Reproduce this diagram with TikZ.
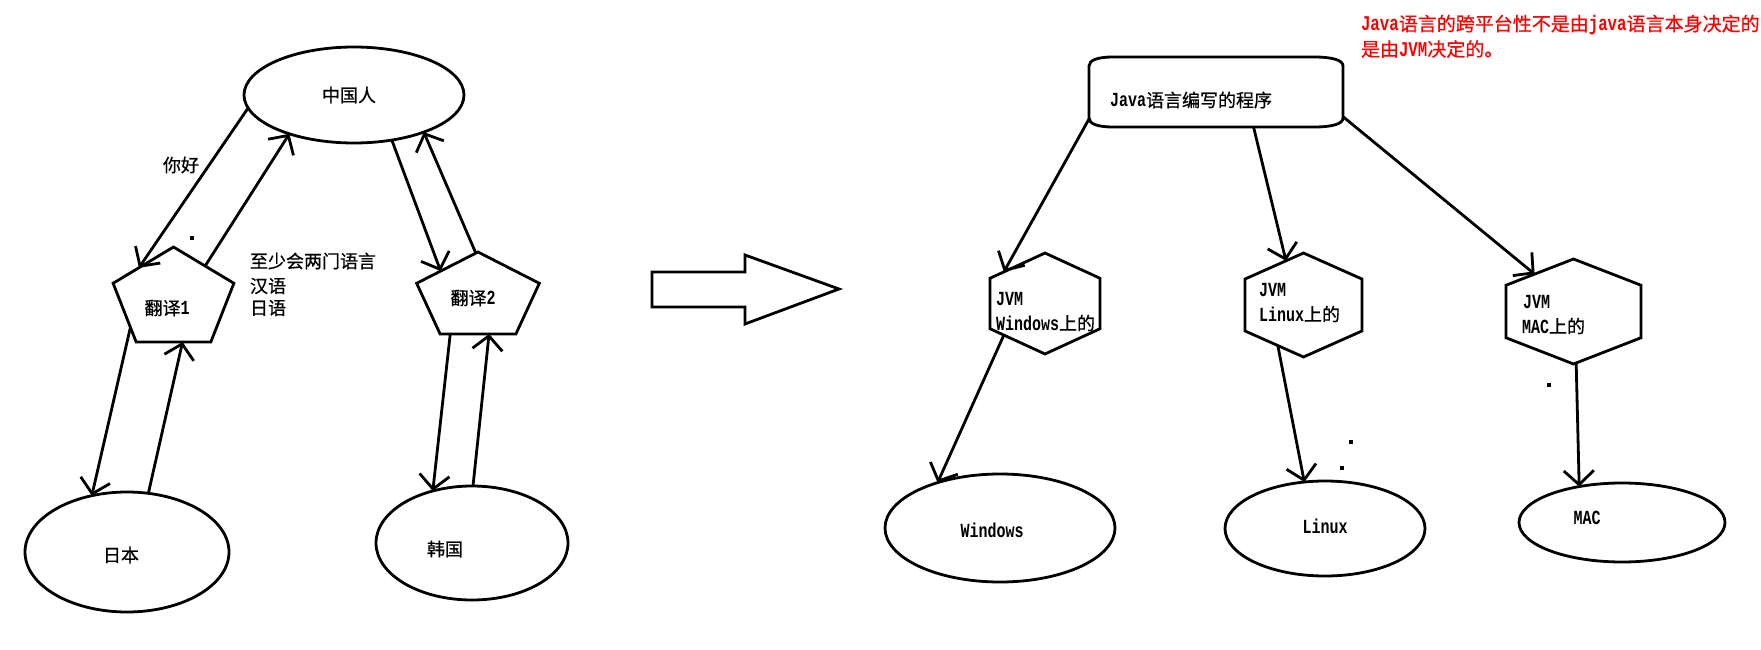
\documentclass[tikz,border=0pt]{standalone}
\usepackage{fontspec}
\setmainfont{Noto Sans CJK SC}[FakeBold=0.6]
\newfontfamily\latf{Liberation Mono}[FakeStretch=0.75]
\usetikzlibrary{shapes.geometric,arrows.meta}
\newcommand\mylat[1]{{\latf\bfseries\fontsize{20}{24}\selectfont #1}}
\newcommand\redlat[1]{{\latf\bfseries\fontsize{21}{24}\selectfont #1}}
\begin{document}
\begin{tikzpicture}[x=1pt,y=-1pt,
  shp/.style={draw=black, line width=2.8pt, inner sep=0pt, outer sep=0pt},
  el/.style={shp, ellipse},
  poly/.style={shp, regular polygon},
  hexa/.style={poly, regular polygon sides=6, shape border rotate=30},
  arr/.style={draw=black, line width=2.8pt, -{Straight Barb[length=14pt,width=30pt]}},
  txt/.style={inner sep=0pt, outer sep=0pt, font={\fontsize{18}{24}\selectfont}},
  redtxt/.style={txt, text=red, font={\fontsize{19}{24}\selectfont}}
]
\fill[white] (0,0) rectangle (1761,650);
\useasboundingbox (0,0) rectangle (1761,650);

% ---------- left graph ----------
\node[el, minimum width=220pt, minimum height=96pt] (zg) at (354,95) {};
\node[el, minimum width=204pt, minimum height=120pt] (rb) at (127,552) {};
\node[el, minimum width=192pt, minimum height=114pt] (hg) at (472,543) {};
\begin{scope}[shift={(173.5,299.5)}]
  \node[poly, regular polygon sides=5, minimum size=127pt, yscale=0.827] (fy1) {};
\end{scope}
\begin{scope}[shift={(478,297.3)}]
  \node[poly, regular polygon sides=5, minimum size=129pt, yscale=0.702] (fy2) {};
\end{scope}

\node[txt] (tzg) at (349,95) {中国人};
\node[txt] (tnh) at (181,165) {你好};
\node[txt] (tfy1) at (167,308) {翻译\mylat{1}};
\node[txt, anchor=west] (tl1) at (250,261) {至少会两门语言};
\node[txt, anchor=west] (tl2) at (250,286) {汉语};
\node[txt, anchor=west] (tl3) at (250,308) {日语};
\node[txt] (tfy2) at (473,298) {翻译\mylat{2}};
\node[txt] (trb) at (121,555) {日本};
\node[txt] (thg) at (445,549) {韩国};

\draw[arr] (zg.187) -- (fy1.132);
\draw[arr] (fy1.52) -- (zg.211);
\draw[arr] (zg.310) -- (fy2.135);
\draw[arr] (fy2.92) -- (zg.332);
\draw[arr] (fy1.218) -- (rb.122);
\draw[arr] (rb.70) -- (fy1.280);
\draw[arr] (fy2.242) -- (hg.127);
\draw[arr] (hg.89) -- (fy2.282);

% ---------- block arrow ----------
\draw[shp, line join=miter] (652,272) -- (745,272) -- (745,255) -- (839,289)
  -- (745,324) -- (745,307) -- (652,307) -- cycle;

% ---------- right graph ----------
\node[inner sep=0pt, outer sep=0pt, minimum width=254pt, minimum height=70pt] (jb) at (1216,92) {};
\draw[shp] (1113,57) -- (1314,57) .. controls (1332,57) and (1343,60) .. (1343,66)
  -- (1343,118) .. controls (1343,124) and (1332,127) .. (1314,127)
  -- (1113,127) .. controls (1098,127) and (1089,124) .. (1089,118)
  -- (1089,66) .. controls (1089,60) and (1098,57) .. (1113,57) -- cycle;

\begin{scope}[shift={(1045,303.5)}]
  \node[hexa, minimum size=127pt, yscale=0.795] (wj) {};
\end{scope}
\begin{scope}[shift={(1303.5,305)}]
  \node[hexa, minimum size=135pt, yscale=0.770] (lj) {};
\end{scope}
\begin{scope}[shift={(1573.5,311.5)}]
  \node[hexa, minimum size=156pt, yscale=0.673] (mj) {};
\end{scope}

\node[el, minimum width=230pt, minimum height=108pt] (we) at (1000,528) {};
\node[el, minimum width=200pt, minimum height=95pt] (le) at (1325,528.5) {};
\node[el, minimum width=206pt, minimum height=79pt] (me) at (1622,522.5) {};

\node[txt, anchor=west] (tjb) at (1110,100) {\mylat{Java}语言编写的程序};
\node[txt, anchor=west] (twj1) at (996,299) {\mylat{JVM}};
\node[txt, anchor=west] (twj2) at (996,323) {\mylat{Windows}上的};
\node[txt, anchor=west] (tlj1) at (1259,290) {\mylat{JVM}};
\node[txt, anchor=west] (tlj2) at (1259,314) {\mylat{Linux}上的};
\node[txt, anchor=west] (tmj1) at (1523,302) {\mylat{JVM}};
\node[txt, anchor=west] (tmj2) at (1522,326) {\mylat{MAC}上的};
\node[txt] (twe) at (992,530) {\mylat{Windows}};
\node[txt] (tle) at (1325,526) {\mylat{Linux}};
\node[txt] (tme) at (1587,518) {\mylat{MAC}};

\node[redtxt, anchor=west] (r1) at (1361,25) {\redlat{Java}语言的跨平台性不是由\redlat{java}语言本身决定的};
\node[redtxt, anchor=west] (r2) at (1361,49) {是由\redlat{JVM}决定的。};

\draw[arr] (jb.192) -- (wj.136);
\draw[arr] (wj.224) -- (we.144);
\draw[arr] (jb.317) -- (lj.107);
\draw[arr] (lj.244) -- (le.114);
\draw[arr] (jb.349) -- (mj.125);
\draw[arr] (mj.272) -- (me.140);

% stray dots
\fill (190.2,236.2) rectangle (193.8,239.8);
\fill (1547.2,383.2) rectangle (1550.8,386.8);
\fill (1349.2,440.2) rectangle (1352.8,443.8);
\fill (1340.2,466.2) rectangle (1343.8,469.8);
\end{tikzpicture}
\end{document}
